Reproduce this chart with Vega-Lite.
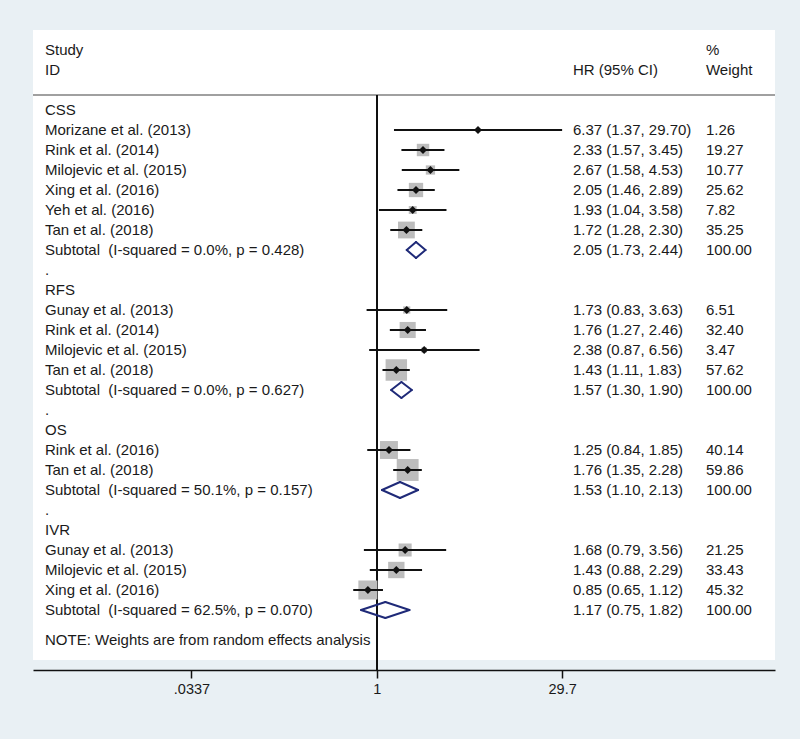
{
  "$schema": "https://vega.github.io/schema/vega-lite/v6.json",
  "width": 742,
  "height": 630,
  "autosize": {"type": "none"},
  "padding": {"left": 33, "top": 30, "right": 25, "bottom": 79},
  "background": "#e9f0f4",
  "config": {"view": {"fill": "white", "stroke": null}, "font": "Liberation Sans"},
  "data": {"values": [
    {"row": -3, "label": "Study", "wt": "%"},
    {"row": -2, "label": "ID", "ci": "HR (95% CI)", "wt": "Weight"},
    {"row": 0, "label": "CSS"},
    {"row": 1, "label": "Morizane et al. (2013)", "type": "study", "hr": 6.37, "lo": 1.37, "hi": 29.70, "weight": 1.26, "ci": "6.37 (1.37, 29.70)", "wt": "1.26"},
    {"row": 2, "label": "Rink et al. (2014)", "type": "study", "hr": 2.33, "lo": 1.57, "hi": 3.45, "weight": 19.27, "ci": "2.33 (1.57, 3.45)", "wt": "19.27"},
    {"row": 3, "label": "Milojevic et al. (2015)", "type": "study", "hr": 2.67, "lo": 1.58, "hi": 4.53, "weight": 10.77, "ci": "2.67 (1.58, 4.53)", "wt": "10.77"},
    {"row": 4, "label": "Xing et al. (2016)", "type": "study", "hr": 2.05, "lo": 1.46, "hi": 2.89, "weight": 25.62, "ci": "2.05 (1.46, 2.89)", "wt": "25.62"},
    {"row": 5, "label": "Yeh et al. (2016)", "type": "study", "hr": 1.93, "lo": 1.04, "hi": 3.58, "weight": 7.82, "ci": "1.93 (1.04, 3.58)", "wt": "7.82"},
    {"row": 6, "label": "Tan et al. (2018)", "type": "study", "hr": 1.72, "lo": 1.28, "hi": 2.30, "weight": 35.25, "ci": "1.72 (1.28, 2.30)", "wt": "35.25"},
    {"row": 7, "label": "Subtotal\u00a0 (I-squared = 0.0%, p = 0.428)", "type": "subtotal", "hr": 2.05, "lo": 1.73, "hi": 2.44, "weight": 100, "ci": "2.05 (1.73, 2.44)", "wt": "100.00"},
    {"row": 8, "label": "."},
    {"row": 9, "label": "RFS"},
    {"row": 10, "label": "Gunay et al. (2013)", "type": "study", "hr": 1.73, "lo": 0.83, "hi": 3.63, "weight": 6.51, "ci": "1.73 (0.83, 3.63)", "wt": "6.51"},
    {"row": 11, "label": "Rink et al. (2014)", "type": "study", "hr": 1.76, "lo": 1.27, "hi": 2.46, "weight": 32.40, "ci": "1.76 (1.27, 2.46)", "wt": "32.40"},
    {"row": 12, "label": "Milojevic et al. (2015)", "type": "study", "hr": 2.38, "lo": 0.87, "hi": 6.56, "weight": 3.47, "ci": "2.38 (0.87, 6.56)", "wt": "3.47"},
    {"row": 13, "label": "Tan et al. (2018)", "type": "study", "hr": 1.43, "lo": 1.11, "hi": 1.83, "weight": 57.62, "ci": "1.43 (1.11, 1.83)", "wt": "57.62"},
    {"row": 14, "label": "Subtotal\u00a0 (I-squared = 0.0%, p = 0.627)", "type": "subtotal", "hr": 1.57, "lo": 1.30, "hi": 1.90, "weight": 100, "ci": "1.57 (1.30, 1.90)", "wt": "100.00"},
    {"row": 15, "label": "."},
    {"row": 16, "label": "OS"},
    {"row": 17, "label": "Rink et al. (2016)", "type": "study", "hr": 1.25, "lo": 0.84, "hi": 1.85, "weight": 40.14, "ci": "1.25 (0.84, 1.85)", "wt": "40.14"},
    {"row": 18, "label": "Tan et al. (2018)", "type": "study", "hr": 1.76, "lo": 1.35, "hi": 2.28, "weight": 59.86, "ci": "1.76 (1.35, 2.28)", "wt": "59.86"},
    {"row": 19, "label": "Subtotal\u00a0 (I-squared = 50.1%, p = 0.157)", "type": "subtotal", "hr": 1.53, "lo": 1.10, "hi": 2.13, "weight": 100, "ci": "1.53 (1.10, 2.13)", "wt": "100.00"},
    {"row": 20, "label": "."},
    {"row": 21, "label": "IVR"},
    {"row": 22, "label": "Gunay et al. (2013)", "type": "study", "hr": 1.68, "lo": 0.79, "hi": 3.56, "weight": 21.25, "ci": "1.68 (0.79, 3.56)", "wt": "21.25"},
    {"row": 23, "label": "Milojevic et al. (2015)", "type": "study", "hr": 1.43, "lo": 0.88, "hi": 2.29, "weight": 33.43, "ci": "1.43 (0.88, 2.29)", "wt": "33.43"},
    {"row": 24, "label": "Xing et al. (2016)", "type": "study", "hr": 0.85, "lo": 0.65, "hi": 1.12, "weight": 45.32, "ci": "0.85 (0.65, 1.12)", "wt": "45.32"},
    {"row": 25, "label": "Subtotal\u00a0 (I-squared = 62.5%, p = 0.070)", "type": "subtotal", "hr": 1.17, "lo": 0.75, "hi": 1.82, "weight": 100, "ci": "1.17 (0.75, 1.82)", "wt": "100.00"},
    {"row": 26.5, "label": "NOTE: Weights are from random effects analysis"}
  ]},
  "layer": [
    {
      "mark": {"type": "rule", "color": "#a0a0a0", "strokeWidth": 1.5},
      "encoding": {
        "x": {"datum": 0.001855, "type": "quantitative", "scale": {"type": "log", "domain": [0.001855, 1460], "nice": false},
          "axis": {"values": [0.0337, 1, 29.7], "labelExpr": "datum.value < 0.1 ? '.0337' : format(datum.value, '~g')", "title": null, "grid": false, "offset": 10, "domainColor": "#111", "domainWidth": 1.5, "tickColor": "#111", "tickWidth": 1.5, "tickSize": 8, "labelFontSize": 14.5, "labelColor": "#1a1a1a", "labelPadding": 4, "labelFont": "Liberation Sans"}},
        "x2": {"datum": 1460},
        "y": {"datum": -0.75, "type": "quantitative", "scale": {"domain": [-4, 27.5], "reverse": true, "nice": false, "zero": false}, "axis": null}
      }
    },
    {
      "mark": {"type": "rule", "color": "#111", "strokeWidth": 1.5, "y2Offset": 10},
      "encoding": {
        "x": {"datum": 1, "type": "quantitative"},
        "y": {"datum": -0.75, "type": "quantitative"},
        "y2": {"datum": 27.5}
      }
    },
    {
      "transform": [{"filter": "datum.type == 'study'"}],
      "mark": {"type": "point", "shape": "square", "filled": true, "color": "#bdbdbd", "opacity": 1},
      "encoding": {
        "x": {"field": "hr", "type": "quantitative"},
        "y": {"field": "row", "type": "quantitative"},
        "size": {"field": "weight", "type": "quantitative", "scale": {"type": "linear", "domain": [0, 100], "range": [0, 800], "zero": true}, "legend": null}
      }
    },
    {
      "transform": [{"filter": "datum.type == 'study'"}],
      "mark": {"type": "rule", "color": "#111", "strokeWidth": 2},
      "encoding": {
        "x": {"field": "lo", "type": "quantitative"},
        "x2": {"field": "hi"},
        "y": {"field": "row", "type": "quantitative"}
      }
    },
    {
      "transform": [{"filter": "datum.type == 'study'"}],
      "mark": {"type": "point", "shape": "diamond", "filled": true, "color": "#111", "size": 64, "opacity": 1},
      "encoding": {
        "x": {"field": "hr", "type": "quantitative"},
        "y": {"field": "row", "type": "quantitative"}
      }
    },
    {
      "transform": [{"filter": "datum.type == 'subtotal'"}],
      "mark": {"type": "rule", "color": "#1f2a78", "strokeWidth": 2, "strokeCap": "round", "y2Offset": -8},
      "encoding": {
        "x": {"field": "lo", "type": "quantitative"},
        "x2": {"field": "hr"},
        "y": {"field": "row", "type": "quantitative"},
        "y2": {"field": "row"}
      }
    },
    {
      "transform": [{"filter": "datum.type == 'subtotal'"}],
      "mark": {"type": "rule", "color": "#1f2a78", "strokeWidth": 2, "strokeCap": "round", "y2Offset": 8},
      "encoding": {
        "x": {"field": "lo", "type": "quantitative"},
        "x2": {"field": "hr"},
        "y": {"field": "row", "type": "quantitative"},
        "y2": {"field": "row"}
      }
    },
    {
      "transform": [{"filter": "datum.type == 'subtotal'"}],
      "mark": {"type": "rule", "color": "#1f2a78", "strokeWidth": 2, "strokeCap": "round", "yOffset": -8},
      "encoding": {
        "x": {"field": "hr", "type": "quantitative"},
        "x2": {"field": "hi"},
        "y": {"field": "row", "type": "quantitative"},
        "y2": {"field": "row"}
      }
    },
    {
      "transform": [{"filter": "datum.type == 'subtotal'"}],
      "mark": {"type": "rule", "color": "#1f2a78", "strokeWidth": 2, "strokeCap": "round", "yOffset": 8},
      "encoding": {
        "x": {"field": "hr", "type": "quantitative"},
        "x2": {"field": "hi"},
        "y": {"field": "row", "type": "quantitative"},
        "y2": {"field": "row"}
      }
    },
    {
      "transform": [{"filter": "datum.label"}],
      "mark": {"type": "text", "align": "left", "baseline": "middle", "fontSize": 15, "color": "#1a1a1a", "font": "Liberation Sans"},
      "encoding": {
        "x": {"datum": 0.00231, "type": "quantitative"},
        "y": {"field": "row", "type": "quantitative"},
        "text": {"field": "label"}
      }
    },
    {
      "transform": [{"filter": "datum.ci"}],
      "mark": {"type": "text", "align": "left", "baseline": "middle", "fontSize": 15, "color": "#1a1a1a", "font": "Liberation Sans"},
      "encoding": {
        "x": {"datum": 36.2, "type": "quantitative"},
        "y": {"field": "row", "type": "quantitative"},
        "text": {"field": "ci"}
      }
    },
    {
      "transform": [{"filter": "datum.wt"}],
      "mark": {"type": "text", "align": "left", "baseline": "middle", "fontSize": 15, "color": "#1a1a1a", "font": "Liberation Sans"},
      "encoding": {
        "x": {"datum": 413, "type": "quantitative"},
        "y": {"field": "row", "type": "quantitative"},
        "text": {"field": "wt"}
      }
    }
  ]
}
